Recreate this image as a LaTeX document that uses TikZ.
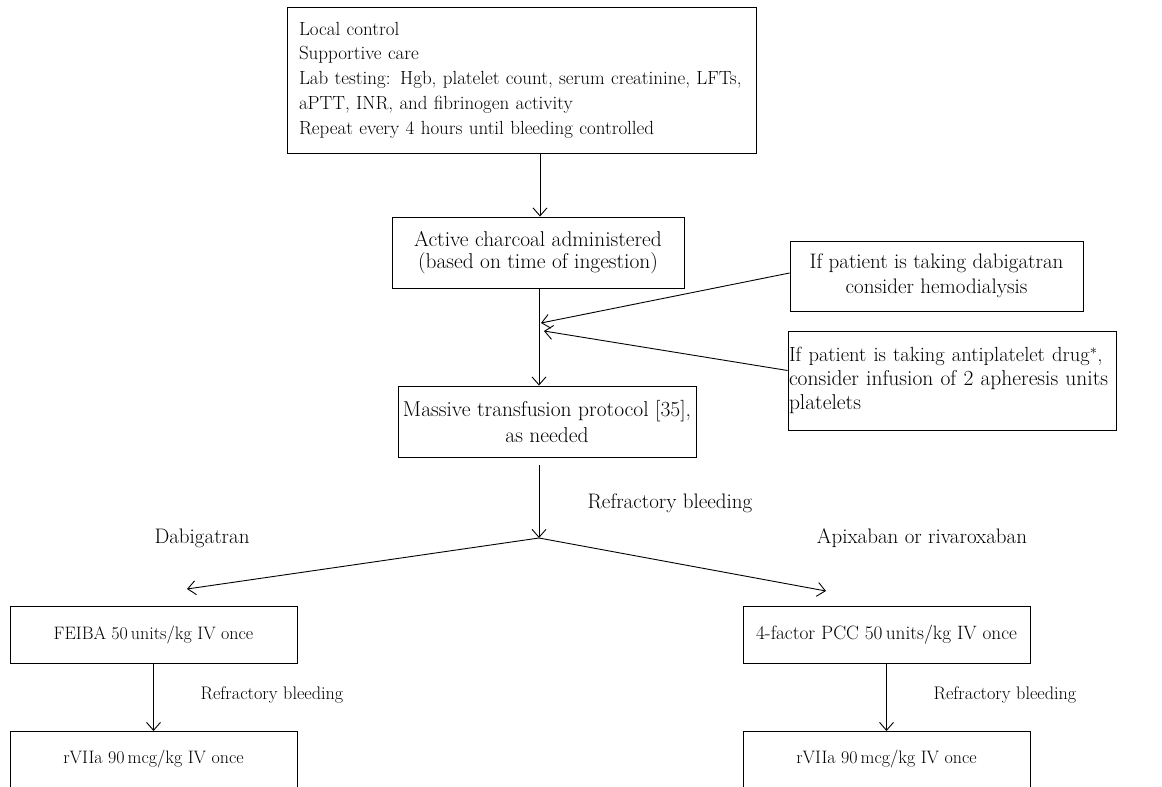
\documentclass[tikz,border=0pt]{standalone}
\usetikzlibrary{arrows.meta}
\newcommand\fsz{\fontsize{21}{25}\selectfont}
\newcommand\fss{\fontsize{18.2}{22}\selectfont}
\tikzset{
  box/.style={draw, line width=0.9pt, inner sep=0pt, font=\fsz},
  arr/.style={-{Straight Barb[length=8pt,width=14pt,line width=0.9pt]}, line width=0.9pt},
  lbl/.style={font=\fsz, inner sep=0pt},
  slbl/.style={font=\fss, inner sep=0pt}
}
\begin{document}
\begin{tikzpicture}[x=1pt,y=1pt]
\useasboundingbox (0,0) rectangle (1162,-787);
\clip (0,0) rectangle (1162,-787);
% boxes
\node[box, minimum width=469, minimum height=146, text width=445, align=left, font=\fontsize{19}{24.75}\selectfont] (top) at (521.5,-80)
  {Local control\\Supportive care\\Lab testing: Hgb, platelet count, serum creatinine, LFTs,\\aPTT, INR, and fibrinogen activity\\Repeat every 4 hours until bleeding controlled};
\node[box, minimum width=292, minimum height=71, align=center, font=\fontsize{21.4}{22}\selectfont] (char) at (538,-252.5)
  {Active charcoal administered\\(based on time of ingestion)};
\node[box, minimum width=293, minimum height=70, align=center] (dab) at (936.5,-276)
  {If patient is taking dabigatran\\consider hemodialysis};
\node[box, minimum width=328, minimum height=99, text width=326, align=left, font=\fontsize{21.5}{24}\selectfont] (anti) at (952,-380.5)
  {{\fontsize{20.5}{24}\selectfont If patient is taking antiplatelet drug$^{*}$,}\\consider infusion of 2 apheresis units\\platelets};
\node[box, minimum width=298, minimum height=71, align=center, font=\fontsize{21.5}{26}\selectfont] (mass) at (547,-421.5)
  {Massive transfusion protocol [35],\\as needed};
\node[box, minimum width=287, minimum height=57, font=\fontsize{18}{22}\selectfont] (feiba) at (153.5,-634.5) {FEIBA 50\,units/kg IV once};
\node[box, minimum width=287, minimum height=57, font=\fontsize{19.3}{22}\selectfont] (pcc) at (886.5,-634.5) {4-factor PCC 50\,units/kg IV once};
\node[box, minimum width=287, text height=14pt, text depth=30pt, inner ysep=18pt, anchor=north, font=\fontsize{18}{22}\selectfont] (r1) at (153.5,-731) {rVIIa 90\,mcg/kg IV once};
\node[box, minimum width=287, text height=14pt, text depth=30pt, inner ysep=18pt, anchor=north, font=\fontsize{18}{22}\selectfont] (r2) at (886.5,-731) {rVIIa 90\,mcg/kg IV once};
% labels
\node[lbl] (rb0) at (670,-503) {Refractory bleeding};
\node[lbl] (ldab) at (202,-538) {Dabigatran};
\node[lbl] (lapi) at (922,-538) {Apixaban or rivaroxaban};
\node[slbl] (rb1) at (272,-695) {Refractory bleeding};
\node[slbl] (rb2) at (1005,-695) {Refractory bleeding};
% coordinates
\coordinate (j1) at (541,-323);
\coordinate (j2) at (544,-331);
\coordinate (br) at (539,-538);
\coordinate (lt) at (187,-589);
\coordinate (rt) at (826,-591);
% connectors
\draw[arr] ([xshift=2pt]top.south -| char.north) -- ([xshift=2pt]char.north);
\draw[arr] (char.south -| br) -- (mass.north -| br);
\draw[arr] ([yshift=3pt]dab.west) -- (j1);
\draw[arr] ([yshift=10pt]anti.west) -- (j2);
\draw[arr, shorten <=8pt] (mass.south -| br) -- (br);
\draw[arr] (br) -- (lt);
\draw[arr] (br) -- (rt);
\draw[arr] (feiba.south) -- (r1.north);
\draw[arr] (pcc.south) -- (r2.north);
\end{tikzpicture}
\end{document}
